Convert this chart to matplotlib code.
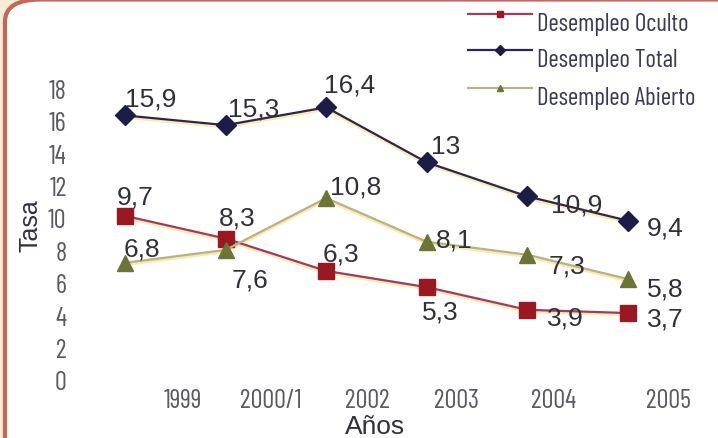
import matplotlib
matplotlib.use("Agg")
import matplotlib.pyplot as plt
import matplotlib.transforms as mtransforms
from matplotlib.lines import Line2D
from matplotlib.patches import FancyBboxPatch
import numpy as np

# data
years = ["1999", "2000/1", "2002", "2003", "2004", "2005"]
oculto = [9.7, 8.3, 6.3, 5.3, 3.9, 3.7]
total = [15.9, 15.3, 16.4, 13, 10.9, 9.4]
abierto = [6.8, 7.6, 10.8, 8.1, 7.3, 5.8]
names = ["Desempleo Oculto", "Desempleo Total", "Desempleo Abierto"]

W, H = 718, 439
NARROW = ["Barlow Condensed", "Roboto Condensed", "DejaVu Sans"]
SANS = ["Liberation Sans", "DejaVu Sans"]

fig = plt.figure(figsize=(W / 100, H / 100), dpi=100)
fig.patch.set_facecolor("#f6ead8")

# rounded frame of the original graphic (top edge almost off the scan)
frame = FancyBboxPatch((5 / W, -0.05), 760 / W, 1.05 - 0.5 / H,
                       boxstyle="round,pad=0,rounding_size=0.05",
                       transform=fig.transFigure, facecolor="white",
                       edgecolor="#c4675a", linewidth=3, zorder=0)
fig.add_artist(frame)


def px(x0, y0, w, h):
    # pixel box (top-left origin) -> figure fraction
    return [x0 / W, 1 - (y0 + h) / H, w / W, h / H]


ax = fig.add_axes(px(75, 60, 625, 326))
ax.patch.set_alpha(0)
for s in ax.spines.values():
    s.set_visible(False)

x = np.arange(len(years))
ppu = 16.2  # pixels per unit on y
ax.set_xlim(-(125 - 75) / 100.6, 5 + (700 - 628) / 100.6)
ax.set_ylim(-(386 - 374) / ppu, (374 - 60) / ppu)

styles = [
    dict(data=oculto, line="#a03a62", mk="s", mc="#9c1820", ms=12),
    dict(data=total, line="#2e2452", mk="D", mc="#1c1c46", ms=10),
    dict(data=abierto, line="#b8b088", mk="^", mc="#6c7436", ms=11),
]

# label offsets in pixels (dx, dy) from each marker
offsets = [
    [(-8, 19), (-7, 21), (-4, 17), (-5, -24), (20, -8), (19, -5)],
    [(0, 17), (2, 17), (-2, 23), (4, 16), (24, -8), (19, -7)],
    [(-1, 14), (6, -30), (4, 12), (9, 2), (21, -11), (19, -9)],
]

for st, offs in zip(styles, offsets):
    # faint yellow misregistration shadow under each line
    ax.plot(x, np.array(st["data"]) - 0.12, color="#f3df7a", lw=2, alpha=0.6, zorder=1)
    ax.plot(x, st["data"], color=st["line"], lw=1.6, marker=st["mk"],
            ms=st["ms"], mfc=st["mc"], mec=st["mc"], zorder=3)
    for xi, v, (dx, dy) in zip(x, st["data"], offs):
        lab = ("%g" % v).replace(".", ",")
        ax.annotate(lab, (xi, v), xytext=(dx * 0.72, dy * 0.72),
                    textcoords="offset points", ha="left", va="center",
                    fontsize=19, color="#303038", family=SANS, zorder=4)

# year labels sit between the points, not under them
label_shift = [0.57, 0.45, 0.41, 0.30, 0.26, 0.40]
ax.set_yticks(np.arange(0, 19, 2))
ax.set_xticks(x + np.array(label_shift), years)
ax.tick_params(length=0, colors="#5a5a62", labelsize=19)
ax.tick_params(axis="y", pad=6)
ax.tick_params(axis="x", pad=2, labelsize=19)
for t in ax.get_xticklabels() + ax.get_yticklabels():
    t.set_family(NARROW)
shift = mtransforms.ScaledTranslation(0, -0.07, fig.dpi_scale_trans)
for t in ax.get_yticklabels():
    t.set_transform(t.get_transform() + shift)

ax.set_ylabel("Tasa", fontsize=18, color="#303040", family=SANS, va="center")
ax.yaxis.set_label_coords((30 - 75) / 625, (386 - 226) / 326)
ax.set_xlabel("Años", fontsize=19, color="#303038", family=SANS, va="center")
ax.xaxis.set_label_coords((375 - 75) / 625, (386 - 427) / 326)

# legend drawn by hand to keep the line on the top of each label
leg_y = [15, 51, 89]
for st, name, y in zip(styles, names, leg_y):
    fy = 1 - y / H
    fig.add_artist(Line2D([468 / W, 532 / W], [fy, fy], color=st["line"], lw=1.6))
    fig.add_artist(Line2D([500 / W], [fy], marker=st["mk"], ms=5,
                          mfc=st["mc"], mec=st["mc"], lw=0))
    fig.text(537 / W, 1 - (y + 9) / H, name, fontsize=18, color="#3a3a58",
             family=NARROW, va="center", ha="left")

fig.savefig("out.png", dpi=100, facecolor=fig.get_facecolor())
